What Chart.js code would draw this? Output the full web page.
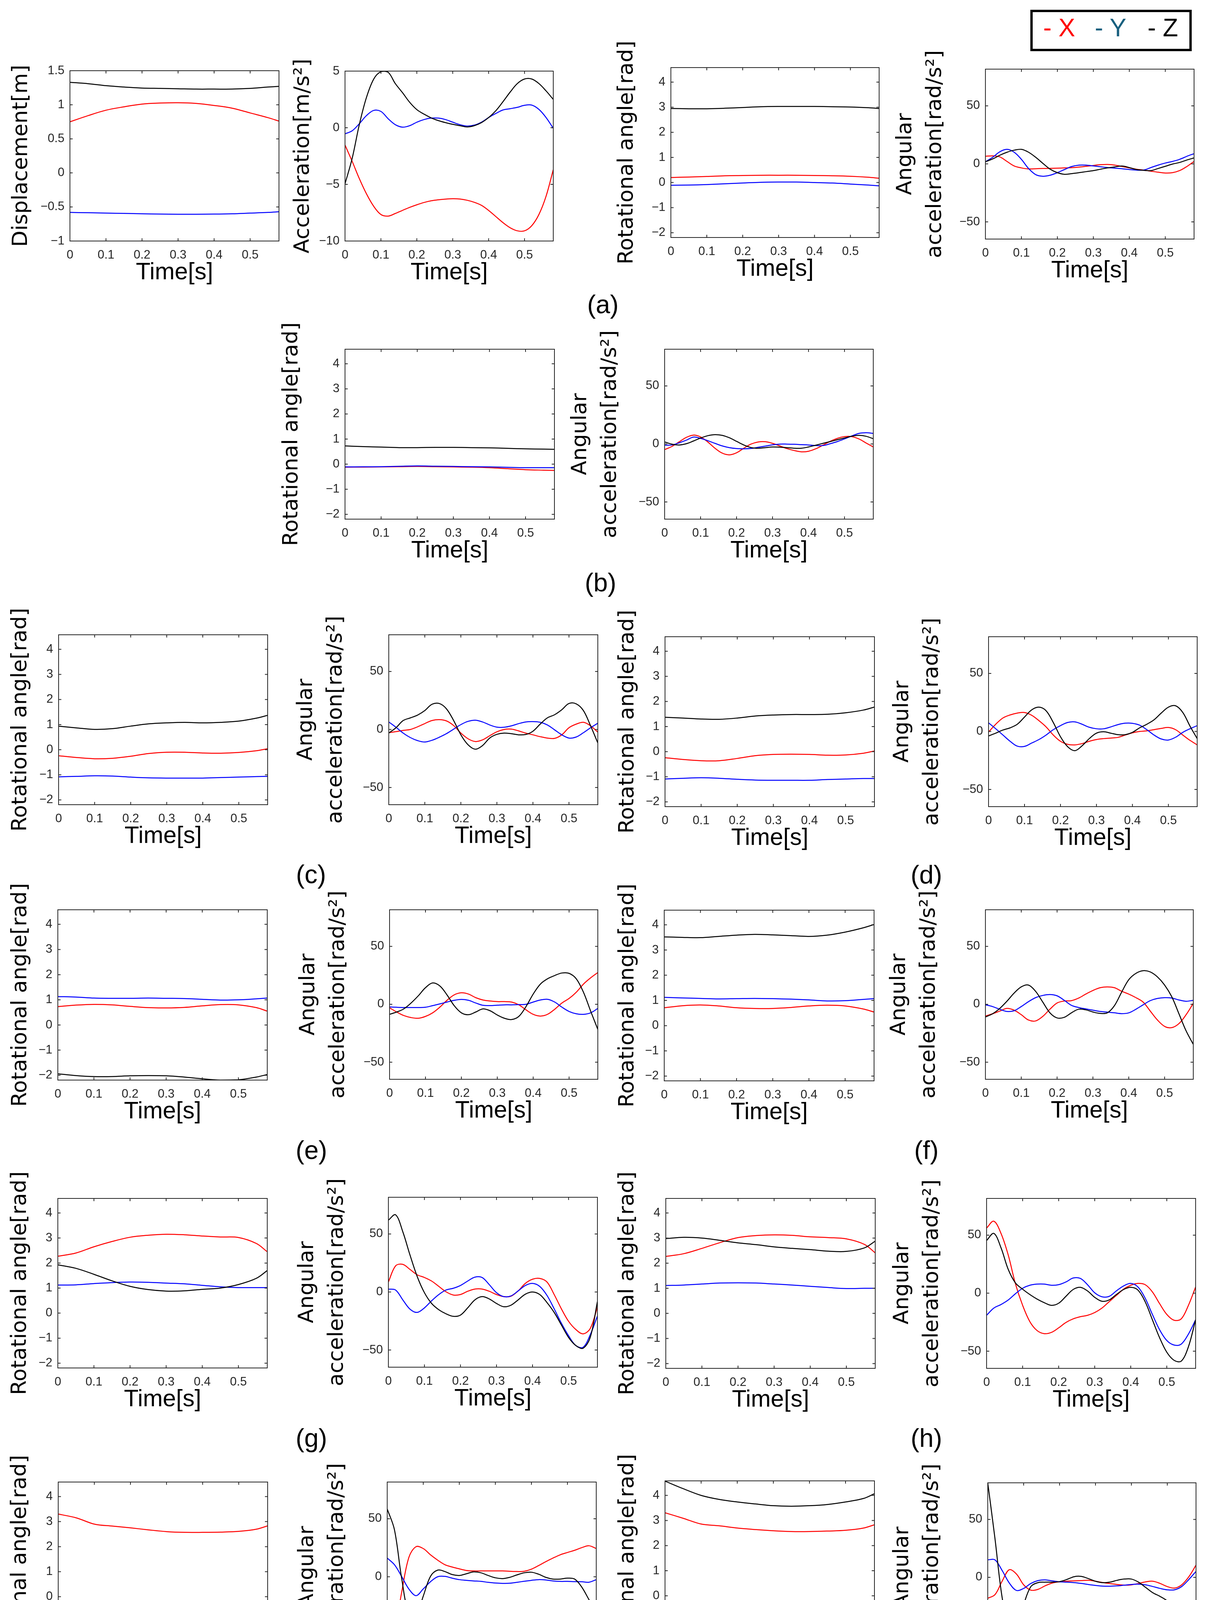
<!DOCTYPE html>
<html>
<head>
<meta charset="utf-8">
<script src="https://cdn.jsdelivr.net/npm/chart.js@4.4.0/dist/chart.umd.min.js"></script>
<style>
  body { margin: 0; background: #fff; width: 3084px; height: 4466px; position: relative; overflow: hidden; }
  canvas { position: absolute; }
  .lbl { position: absolute; font-family: 'Liberation Sans', Arial, sans-serif; font-size: 66px; line-height: 1;
         transform: translate(-50%, -50%); white-space: pre; color: #000; }
  .legend { position: absolute; left: 2637px; top: 25px; width: 413px; height: 106px; box-sizing: border-box;
            border: 6px solid #000; }
  .key { position: absolute; font-family: 'Liberation Sans', Arial, sans-serif; font-size: 64px; line-height: 1;
         transform: translateY(-50%); white-space: pre; }
</style>
</head>
<body>
<div class="legend"></div>
<span class="key" style="left:2670px;top:71px;color:#ff0000">- X</span>
<span class="key" style="left:2802px;top:71px;color:#19607f">- Y</span>
<span class="key" style="left:2937px;top:71px;color:#000">- Z</span>
<script>
// time axes [s]
const T_ANG = [0, 0.05, 0.1, 0.15, 0.2, 0.25, 0.3, 0.35, 0.4, 0.45, 0.5, 0.55, 0.58];
const T_ACC = [0, 0.02, 0.04, 0.06, 0.08, 0.1, 0.12, 0.14, 0.16, 0.18, 0.2, 0.22, 0.24, 0.26, 0.28,
               0.3, 0.32, 0.34, 0.36, 0.38, 0.4, 0.42, 0.44, 0.46, 0.48, 0.5, 0.52, 0.54, 0.56, 0.58];

// (a) displacement [m] and acceleration [m/s^2]
const dispA_X = [0.75, 0.84, 0.92, 0.97, 1.01, 1.025, 1.03, 1.02, 0.99, 0.95, 0.88, 0.81, 0.76];
const dispA_Y = [-0.58, -0.585, -0.59, -0.595, -0.6, -0.605, -0.607, -0.607, -0.605, -0.6, -0.59, -0.58, -0.57];
const dispA_Z = [1.33, 1.31, 1.28, 1.26, 1.245, 1.24, 1.235, 1.23, 1.23, 1.23, 1.24, 1.26, 1.27];
const accA_X = [-1.53, -2.97, -4.5, -5.85, -6.94, -7.66, -7.8, -7.57, -7.3, -7.03, -6.8, -6.6, -6.45, -6.36, -6.3,
                -6.27, -6.29, -6.4, -6.58, -6.85, -7.3, -7.84, -8.38, -8.83, -9.1, -9.1, -8.65, -7.66, -6.04, -3.7];
const accA_Y = [-0.54, -0.27, 0.36, 1.08, 1.53, 1.44, 0.8, 0.27, 0.05, 0.18, 0.49, 0.72, 0.85, 0.85, 0.72,
                0.49, 0.27, 0.15, 0.23, 0.49, 0.9, 1.26, 1.57, 1.68, 1.8, 1.98, 2.0, 1.62, 0.9, -0.05];
const accA_Z = [-4.95, -2.7, 0.3, 2.7, 4.3, 4.95, 4.9, 3.9, 3.1, 2.25, 1.6, 1.2, 0.87, 0.63, 0.45,
                0.3, 0.18, 0.07, 0.18, 0.45, 0.9, 1.5, 2.3, 3.15, 3.9, 4.3, 4.3, 3.9, 3.25, 2.5];

// rotational angle [rad], rows (a)..(j)
const angA_X = [0.2, 0.22, 0.24, 0.27, 0.28, 0.29, 0.29, 0.29, 0.28, 0.27, 0.25, 0.21, 0.17];
const angA_Y = [-0.11, -0.1, -0.08, -0.05, -0.02, 0.01, 0.02, 0.02, 0.0, -0.02, -0.06, -0.1, -0.13];
const angA_Z = [2.95, 2.94, 2.94, 2.96, 2.99, 3.02, 3.03, 3.03, 3.03, 3.02, 3.01, 2.98, 2.95];
const angB_X = [-0.12, -0.115, -0.11, -0.1, -0.09, -0.1, -0.11, -0.12, -0.14, -0.18, -0.22, -0.24, -0.25];
const angB_Y = [-0.11, -0.105, -0.1, -0.085, -0.07, -0.08, -0.09, -0.1, -0.11, -0.125, -0.14, -0.14, -0.14];
const angB_Z = [0.73, 0.7, 0.68, 0.66, 0.66, 0.67, 0.67, 0.66, 0.65, 0.63, 0.61, 0.6, 0.59];
const angC_X = [-0.24, -0.31, -0.36, -0.34, -0.26, -0.15, -0.1, -0.1, -0.13, -0.14, -0.11, -0.04, 0.04];
const angC_Y = [-1.08, -1.06, -1.04, -1.05, -1.09, -1.12, -1.13, -1.13, -1.13, -1.11, -1.09, -1.07, -1.06];
const angC_Z = [0.94, 0.87, 0.81, 0.84, 0.94, 1.03, 1.07, 1.09, 1.07, 1.09, 1.14, 1.26, 1.37];
const angD_X = [-0.24, -0.31, -0.36, -0.36, -0.27, -0.16, -0.11, -0.1, -0.11, -0.14, -0.13, -0.06, 0.03];
const angD_Y = [-1.09, -1.06, -1.04, -1.06, -1.1, -1.13, -1.14, -1.14, -1.14, -1.11, -1.09, -1.07, -1.07];
const angD_Z = [1.37, 1.34, 1.3, 1.29, 1.34, 1.42, 1.46, 1.48, 1.48, 1.49, 1.55, 1.66, 1.78];
const angE_X = [0.73, 0.79, 0.82, 0.8, 0.74, 0.69, 0.68, 0.7, 0.76, 0.81, 0.8, 0.69, 0.55];
const angE_Y = [1.13, 1.11, 1.07, 1.06, 1.06, 1.07, 1.06, 1.05, 1.02, 0.99, 1.0, 1.04, 1.07];
const angE_Z = [-1.94, -2.01, -2.05, -2.05, -2.02, -2.01, -2.02, -2.07, -2.14, -2.19, -2.18, -2.07, -1.97];
const angF_X = [0.71, 0.79, 0.82, 0.78, 0.71, 0.68, 0.68, 0.72, 0.78, 0.81, 0.78, 0.66, 0.54];
const angF_Y = [1.12, 1.1, 1.08, 1.06, 1.07, 1.08, 1.07, 1.05, 1.02, 0.98, 0.99, 1.04, 1.07];
const angF_Z = [3.52, 3.5, 3.49, 3.54, 3.59, 3.62, 3.6, 3.57, 3.54, 3.59, 3.71, 3.88, 4.01];
const angG_X = [2.27, 2.4, 2.65, 2.86, 3.03, 3.11, 3.15, 3.13, 3.08, 3.04, 3.02, 2.78, 2.45];
const angG_Y = [1.12, 1.13, 1.18, 1.22, 1.24, 1.23, 1.2, 1.17, 1.11, 1.05, 1.02, 1.02, 1.02];
const angG_Z = [1.93, 1.79, 1.55, 1.29, 1.07, 0.94, 0.88, 0.89, 0.95, 1.0, 1.14, 1.39, 1.7];
const angH_X = [2.27, 2.38, 2.59, 2.82, 3.02, 3.1, 3.13, 3.11, 3.05, 3.02, 2.97, 2.75, 2.41];
const angH_Y = [1.11, 1.13, 1.17, 1.21, 1.22, 1.21, 1.17, 1.13, 1.08, 1.03, 0.99, 1.0, 1.0];
const angH_Z = [2.98, 3.03, 3.0, 2.91, 2.81, 2.74, 2.65, 2.59, 2.54, 2.48, 2.47, 2.61, 2.88];
const angI_X = [3.3, 3.15, 2.9, 2.82, 2.75, 2.67, 2.6, 2.57, 2.57, 2.58, 2.61, 2.7, 2.83];
const angI_Y = [-1.06, -1.11, -1.15, -1.17, -1.19, -1.2, -1.2, -1.19, -1.17, -1.13, -1.09, -1.04, -1.0];
const angI_Z = [-1.15, -1.24, -1.36, -1.37, -1.39, -1.42, -1.47, -1.49, -1.5, -1.51, -1.51, -1.51, -1.49];
const angJ_X = [3.31, 3.09, 2.86, 2.79, 2.7, 2.64, 2.59, 2.56, 2.56, 2.58, 2.61, 2.7, 2.83];
const angJ_Y = [-1.05, -1.12, -1.16, -1.18, -1.19, -1.2, -1.2, -1.19, -1.16, -1.14, -1.1, -1.05, -1.0];
const angJ_Z = [4.57, 4.27, 4.0, 3.84, 3.74, 3.66, 3.59, 3.57, 3.59, 3.64, 3.74, 3.88, 4.07];

// angular acceleration [rad/s^2], rows (a)..(j)
const angAccA_X = [6.5, 6.9, 6.0, 2.1, -1.8, -3.5, -4.4, -4.2, -4.0, -3.9, -3.7, -3.5, -3.3, -2.8, -2.1,
                   -1.4, -0.7, -0.5, -1.1, -2.3, -3.5, -4.6, -5.4, -6.3, -7.2, -7.9, -7.6, -5.8, -2.3, 2.1];
const angAccA_Y = [1.8, 5.6, 10.4, 12.5, 10.0, 3.9, -4.0, -9.3, -10.7, -9.8, -7.6, -4.9, -2.3, -1.1, -1.1,
                   -1.8, -2.5, -3.2, -3.7, -4.2, -4.9, -5.4, -5.3, -3.2, -1.1, 0.7, 2.1, 3.9, 6.5, 8.8];
const angAccA_Z = [1.8, 4.2, 7.4, 10.0, 11.8, 12.5, 10.0, 5.6, 0.35, -4.6, -7.6, -9.0, -8.4, -7.6, -6.7,
                   -5.8, -4.6, -3.5, -2.6, -1.9, -3.2, -4.9, -5.6, -5.8, -4.0, -2.1, -0.2, 1.2, 3.3, 5.1];
const angAccB_X = [-4.9, -2.2, 1.7, 5.6, 7.6, 6.0, 1.7, -3.7, -7.9, -9.4, -7.6, -3.7, -0.15, 1.7, 1.9,
                   0.5, -1.7, -4.0, -5.7, -6.8, -6.3, -4.2, -1.1, 2.2, 4.8, 6.3, 6.3, 4.3, 0.8, -2.6];
const angAccB_Y = [-1.1, -0.9, 0.9, 3.2, 5.9, 4.8, 2.8, 0.5, -1.7, -3.2, -4.0, -4.2, -3.9, -2.9, -1.9,
                   -0.8, -0.15, -0.15, -0.3, -0.6, -0.9, -1.4, -1.4, 0.15, 2.0, 4.3, 6.8, 9.1, 9.7, 9.1];
const angAccB_Z = [1.7, -0.15, -0.9, 0.15, 2.5, 5.1, 7.1, 8.0, 7.4, 5.3, 2.2, -0.9, -3.1, -3.7, -3.2,
                   -2.6, -2.8, -3.2, -3.7, -3.7, -2.6, -1.1, 0.5, 2.0, 3.6, 5.1, 6.6, 7.4, 6.6, 4.5];
const angAccC_X = [-2.8, -1.9, -0.8, 0, 2.3, 5.1, 7.7, 8.5, 7.4, 3.4, -3.1, -8.0, -10.4, -9.0, -5.4,
                   -2.0, 0, 0.3, -1.2, -3.1, -4.6, -6.2, -7.4, -7.7, -4.6, 1.5, 4.6, 6.2, 3.1, -2.3];
const angAccC_Y = [6.5, 1.9, -3.1, -7.0, -9.6, -10.8, -9.3, -6.7, -3.6, 0.3, 4.2, 7.0, 8.0, 6.5, 3.9,
                   2.0, 1.9, 3.1, 5.0, 6.5, 6.8, 6.2, 3.9, -0.3, -4.6, -7.4, -6.5, -2.8, 1.5, 5.4];
const angAccC_Z = [-3.1, 1.5, 7.7, 10.0, 12.4, 16.3, 21.7, 22.4, 17.8, 7.7, -4.6, -13.2, -17.0, -13.9, -7.4,
                   -4.2, -3.1, -3.6, -4.6, -4.3, -1.5, 4.6, 10.0, 12.7, 17.0, 22.4, 22.1, 16.3, 3.1, -11.6];
const angAccD_X = [-0.5, 6.2, 11.6, 14.2, 15.8, 16.3, 13.9, 9.3, 3.9, -3.1, -8.5, -11.1, -11.6, -10.5, -8.5,
                   -7.0, -6.2, -5.7, -5.1, -3.1, -1.2, 0, 0.5, 1.5, 2.6, 3.4, 1.5, -3.1, -7.7, -11.6];
const angAccD_Y = [7.4, 2.3, -3.1, -8.5, -12.7, -12.9, -10.0, -7.0, -3.1, 1.5, 5.0, 7.7, 8.2, 6.2, 3.6,
                   2.3, 2.3, 3.9, 5.9, 7.1, 7.0, 5.4, 1.5, -3.1, -6.5, -7.4, -5.0, -0.8, 2.3, 5.0];
const angAccD_Z = [-3.9, -1.5, 1.2, 3.1, 6.2, 12.4, 18.6, 20.9, 17.8, 7.7, -4.6, -13.2, -16.6, -12.4, -6.2,
                   -1.5, -0.3, -1.5, -2.8, -2.8, -0.8, 3.1, 6.2, 10.0, 15.8, 20.9, 22.1, 16.3, 4.6, -6.2];
const angAccE_X = [-3.1, -6.7, -9.8, -11.5, -12.1, -10.5, -7.4, -2.5, 3.4, 8.1, 9.9, 8.8, 5.7, 3.7, 2.8,
                   2.3, 2.3, 1.9, -0.5, -4.8, -8.7, -10.2, -8.7, -4.3, 1.1, 5.0, 10.4, 17.4, 22.8, 27.4];
const angAccE_Y = [-2.3, -2.6, -2.8, -2.8, -2.8, -2.6, -1.2, 0.3, 1.9, 3.4, 4.2, 3.4, 1.1, -0.9, -1.1,
                   -0.8, -0.5, -0.5, -0.3, 0, 1.9, 3.7, 4.3, 1.9, -2.5, -6.2, -8.2, -8.7, -7.4, -3.6];
const angAccE_Z = [-8.7, -6.7, -3.9, 1.1, 7.3, 14.3, 18.4, 15.8, 8.1, -1.2, -7.4, -9.0, -6.7, -4.0, -5.6,
                   -9.3, -12.1, -13.2, -10.5, -2.0, 8.8, 17.4, 22.0, 24.8, 27.0, 26.7, 22.0, 10.4, -5.9, -21.7];
const angAccF_X = [-10.2, -8.2, -5.9, -3.6, -5.1, -9.0, -13.6, -14.4, -10.5, -4.3, 1.1, 2.8, 3.1, 5.3, 8.8,
                   11.9, 14.3, 15.0, 14.3, 11.2, 8.8, 5.7, 1.9, -5.9, -13.6, -19.1, -20.2, -16.7, -9.0, 0.8];
const angAccF_Y = [-0.5, -2.0, -4.3, -6.2, -5.6, -2.0, 2.2, 5.7, 7.6, 8.4, 7.3, 3.4, -0.9, -2.8, -4.0,
                   -5.1, -6.2, -6.8, -7.4, -8.1, -7.4, -4.3, -0.5, 3.1, 5.0, 5.7, 5.4, 3.7, 2.6, 3.4];
const angAccF_Z = [-11.0, -8.2, -3.6, 2.6, 9.6, 15.0, 16.6, 11.2, 1.9, -7.4, -11.8, -11.3, -7.4, -4.3, -4.8,
                   -6.7, -7.9, -7.4, -1.2, 10.4, 21.2, 26.7, 29.0, 27.9, 23.6, 16.6, 6.5, -8.2, -23.0, -34.6];
const angAccG_X = [8.6, 22.5, 23.8, 19.4, 14.8, 12.5, 9.4, 4.8, 0.15, -2.6, -2.2, 0.6, 2.5, 2.5, 0.6,
                   -2.2, -4.0, -3.7, 0.9, 7.4, 11.0, 11.7, 8.6, -2.2, -14.5, -25.3, -32.3, -36.1, -31.5, -13.0];
const angAccG_Y = [2.5, 1.7, -6.8, -14.8, -17.6, -13.7, -7.6, -2.2, 1.7, 3.2, 5.6, 9.4, 12.8, 12.5, 6.3,
                   -0.6, -4.0, -3.4, 0.9, 5.6, 7.4, 4.8, -2.9, -14.5, -26.9, -37.7, -46.1, -47.7, -36.9, -20.7];
const angAccG_Z = [61.9, 66.5, 51.9, 31.8, 13.3, -0.6, -9.9, -15.3, -18.8, -21.0, -19.9, -13.7, -6.8, -4.0, -6.0,
                   -9.9, -12.7, -11.4, -6.8, -1.9, 0, -2.2, -9.1, -17.6, -28.4, -39.2, -46.1, -48.5, -39.2, -8.3];
const angAccH_X = [56.1, 62.0, 51.5, 32.9, 8.1, -10.5, -24.5, -32.2, -34.9, -33.8, -29.9, -25.3, -22.2, -20.3, -19.1,
                   -16.7, -12.9, -7.4, -2.0, 3.4, 6.8, 8.4, 7.3, 1.1, -9.0, -18.3, -23.3, -22.2, -10.5, 5.3];
const angAccH_Y = [-19.1, -12.9, -9.8, -5.9, -0.5, 4.2, 6.8, 7.8, 7.8, 6.8, 7.3, 9.6, 13.0, 12.7, 7.3,
                   0.3, -3.1, -2.8, 1.9, 6.2, 8.4, 5.3, -4.3, -18.3, -31.5, -40.8, -44.7, -43.9, -35.3, -22.9];
const angAccH_Z = [45.3, 51.5, 39.1, 20.5, 8.8, 3.4, -1.2, -5.1, -8.2, -10.5, -8.7, -2.8, 3.1, 5.0, 1.9,
                   -3.6, -7.0, -5.9, -1.2, 3.1, 5.0, 2.6, -7.4, -22.9, -38.4, -50.9, -57.8, -58.6, -46.2, -22.9];
const angAccI_X = [-64.8, -47.8, -13.6, 16.6, 25.9, 24.3, 18.9, 14.3, 10.4, 8.4, 6.8, 5.4, 5.0, 5.0, 5.0,
                   5.0, 5.0, 4.7, 4.5, 4.7, 6.5, 9.6, 13.0, 16.1, 18.9, 20.9, 22.8, 25.1, 26.7, 24.3];
const angAccI_Y = [16.1, 10.4, 0.3, -10.5, -16.3, -10.5, -4.3, 0, 0.3, -1.2, -2.5, -3.1, -3.6, -4.0, -4.8,
                   -5.4, -5.7, -5.6, -4.8, -3.9, -3.1, -2.5, -2.8, -3.6, -4.0, -4.0, -4.2, -4.3, -4.7, -2.5];
const angAccI_Z = [58.4, 40.6, -1.2, -31.5, -33.8, -16.7, 0.3, 5.7, 4.5, 1.9, 1.1, 2.6, 4.2, 3.4, 1.1,
                   -0.9, -1.6, -0.5, 1.6, 3.4, 3.9, 2.2, -0.5, -2.0, -2.0, -1.2, -2.0, -9.0, -19.8, -29.9];
const angAccJ_X = [-18.1, -15.0, -3.4, 6.6, 2.8, -6.5, -11.1, -10.4, -7.3, -4.9, -3.9, -3.4, -3.1, -2.8, -2.6,
                   -3.4, -4.5, -5.4, -6.2, -6.8, -6.5, -5.3, -3.9, -3.4, -5.3, -8.0, -9.3, -6.5, 0.5, 10.5];
const angAccJ_Y = [15.1, 15.1, 5.9, -4.9, -11.4, -9.6, -5.3, -2.8, -2.2, -3.1, -3.9, -4.2, -4.6, -5.3, -6.2,
                   -7.0, -7.6, -7.7, -7.4, -6.8, -6.2, -5.9, -6.5, -8.0, -9.6, -10.8, -10.8, -8.0, -1.9, 5.1];
const angAccJ_Z = [81.6, 33.7, -17.3, -44.4, -43.6, -23.5, -8.0, -4.6, -4.2, -4.2, -3.7, -1.9, 0.5, 0.8, -1.1,
                   -3.4, -4.6, -4.2, -2.6, -1.5, -1.5, -4.2, -8.8, -13.4, -16.5, -20.4, -26.6, -35.1, -42.8, -47.9];

// axis settings per kind of panel
const AXES = {
  disp:   { t: T_ANG, min: -1, max: 1.5, step: 0.5, title: 'Displacement[m]' },
  acc:    { t: T_ACC, min: -10, max: 5, step: 5, title: 'Acceleration[m/s²]' },
  ang:    { t: T_ANG, min: -2.19, max: 4.58, step: 1, title: 'Rotational angle[rad]' },
  angAcc: { t: T_ACC, min: -64.8, max: 81.6, step: 50, title: ['Angular', 'acceleration[rad/s²]'] }
};

// box = plot area on the page [left, top, width, height]; ty = y title centre, px left of the box
const PANELS = [
  { box: [179, 181, 535, 436], kind: 'disp', ty: 124, X: dispA_X, Y: dispA_Y, Z: dispA_Z },
  { box: [883, 182, 533, 435], kind: 'acc', ty: 107, X: accA_X, Y: accA_Y, Z: accA_Z },
  { box: [1717, 173, 533, 435], kind: 'ang', ty: 112, X: angA_X, Y: angA_Y, Z: angA_Z },
  { box: [2522, 177, 534, 435], kind: 'angAcc', ty: 204, X: angAccA_X, Y: angAccA_Y, Z: angAccA_Z },
  { box: [883, 894, 536, 435], kind: 'ang', ty: 136, X: angB_X, Y: angB_Y, Z: angB_Z },
  { box: [1701, 894, 534, 435], kind: 'angAcc', ty: 215, X: angAccB_X, Y: angAccB_Y, Z: angAccB_Z },
  { box: [150, 1625, 535, 435], kind: 'ang', ty: 97, X: angC_X, Y: angC_Y, Z: angC_Z },
  { box: [995, 1625, 535, 435], kind: 'angAcc', ty: 211, X: angAccC_X, Y: angAccC_Y, Z: angAccC_Z },
  { box: [1702, 1630, 536, 435], kind: 'ang', ty: 95, X: angD_X, Y: angD_Y, Z: angD_Z },
  { box: [2530, 1630, 534, 435], kind: 'angAcc', ty: 220, X: angAccD_X, Y: angAccD_Y, Z: angAccD_Z },
  { box: [148, 2329, 536, 436], kind: 'ang', ty: 95, X: angE_X, Y: angE_Y, Z: angE_Z },
  { box: [997, 2329, 533, 434], kind: 'angAcc', ty: 207, X: angAccE_X, Y: angAccE_Y, Z: angAccE_Z },
  { box: [1700, 2330, 537, 437], kind: 'ang', ty: 93, X: angF_X, Y: angF_Y, Z: angF_Z },
  { box: [2522, 2329, 532, 434], kind: 'angAcc', ty: 220, X: angAccF_X, Y: angAccF_Y, Z: angAccF_Z },
  { box: [148, 3068, 536, 434], kind: 'ang', ty: 96, X: angG_X, Y: angG_Y, Z: angG_Z },
  { box: [994, 3065, 535, 435], kind: 'angAcc', ty: 207, X: angAccG_X, Y: angAccG_Y, Z: angAccG_Z },
  { box: [1704, 3068, 536, 435], kind: 'ang', ty: 97, X: angH_X, Y: angH_Y, Z: angH_Z },
  { box: [2525, 3068, 535, 435], kind: 'angAcc', ty: 215, X: angAccH_X, Y: angAccH_Y, Z: angAccH_Z },
  { box: [149, 3794, 536, 434], kind: 'ang', ty: 97, X: angI_X, Y: angI_Y, Z: angI_Z },
  { box: [991, 3794, 535, 435], kind: 'angAcc', ty: 204, X: angAccI_X, Y: angAccI_Y, Z: angAccI_Z },
  { box: [1702, 3791, 536, 435], kind: 'ang', ty: 95, X: angJ_X, Y: angJ_Y, Z: angJ_Z },
  { box: [2528, 3796, 533, 434], kind: 'angAcc', ty: 218, X: angAccJ_X, Y: angAccJ_Y, Z: angAccJ_Z }
];

const LABELS = [['(a)', 1543, 779], ['(b)', 1537, 1491], ['(c)', 796, 2238], ['(d)', 2371, 2239],
                ['(e)', 797, 2944], ['(f)', 2371, 2944], ['(g)', 797, 3681], ['(h)', 2371, 3681],
                ['(i)', 797, 4407], ['(j)', 2371, 4407]];

const LPAD = 260, TPAD = 130, RPAD = 14, BPAD = 118, TICK = 7;
const TICK_FONT = { family: "'Liberation Sans Narrow', 'Liberation Sans', Arial, sans-serif", size: 31 };
const TIME_FONT = { family: "'Liberation Sans', Arial, sans-serif", size: 61 };
const YT_FONT = { family: "'DejaVu Sans', sans-serif", size: 54, lineHeight: 1.4 };
const INK = '#262626';

function num(v) {
  const r = Math.round(v * 10) / 10;
  return (r < 0 ? '\u2212' : '') + String(Math.abs(r));
}

// MATLAB-like box with inward tick marks on all four sides
const matlabBox = {
  id: 'matlabBox',
  afterDraw(chart) {
    const { ctx, chartArea: a, scales: { x, y } } = chart;
    ctx.save();
    ctx.strokeStyle = INK;
    ctx.lineWidth = 2;
    ctx.strokeRect(a.left, a.top, a.right - a.left, a.bottom - a.top);
    ctx.beginPath();
    x.ticks.forEach(t => {
      const px = x.getPixelForValue(t.value);
      ctx.moveTo(px, a.bottom); ctx.lineTo(px, a.bottom - TICK);
      ctx.moveTo(px, a.top); ctx.lineTo(px, a.top + TICK);
    });
    y.ticks.forEach(t => {
      const py = y.getPixelForValue(t.value);
      ctx.moveTo(a.left, py); ctx.lineTo(a.left + TICK, py);
      ctx.moveTo(a.right, py); ctx.lineTo(a.right - TICK, py);
    });
    ctx.stroke();
    ctx.restore();
  }
};

function series(t, vals, color) {
  return {
    data: t.map((x, i) => ({ x: x, y: vals[i] })),
    borderColor: color,
    borderWidth: 2.5,
    pointRadius: 0,
    tension: 0.35,
    fill: false
  };
}

PANELS.forEach(p => {
  const [left, top, w, h] = p.box;
  const ax = AXES[p.kind];
  const lh = YT_FONT.size * YT_FONT.lineHeight;
  const cv = document.createElement('canvas');
  cv.width = LPAD + w + RPAD;
  cv.height = TPAD + h + BPAD;
  cv.style.left = (left - LPAD) + 'px';
  cv.style.top = (top - TPAD) + 'px';
  document.body.appendChild(cv);

  new Chart(cv, {
    type: 'line',
    data: {
      // Z first so the black trace sits on top, as in the original plots
      datasets: [series(ax.t, p.Z, '#000000'), series(ax.t, p.Y, '#0000ff'), series(ax.t, p.X, '#ff0000')]
    },
    options: {
      responsive: false,
      animation: false,
      events: [],
      layout: { padding: { top: TPAD, right: RPAD, left: 0, bottom: 0 }, autoPadding: false },
      plugins: { legend: { display: false }, tooltip: { enabled: false } },
      scales: {
        x: {
          type: 'linear', min: 0, max: 0.58,
          afterFit: s => { s.height = BPAD; s.paddingLeft = 0; s.paddingRight = 0; },
          grid: { display: false, drawTicks: false },
          border: { display: false },
          ticks: { stepSize: 0.1, includeBounds: false, padding: 18, autoSkip: false, maxRotation: 0,
                   font: TICK_FONT, color: INK, callback: v => num(v) },
          title: { display: true, text: 'Time[s]', font: TIME_FONT, color: '#000', padding: 0 }
        },
        y: {
          type: 'linear', min: ax.min, max: ax.max,
          afterFit: s => { s.width = LPAD; s.paddingTop = 0; s.paddingBottom = 0; },
          grid: { display: false, drawTicks: false },
          border: { display: false },
          ticks: { stepSize: ax.step, includeBounds: false, padding: 14, autoSkip: false,
                   font: TICK_FONT, color: INK, callback: v => num(v) },
          title: { display: true, text: ax.title, font: YT_FONT, color: '#000',
                   padding: { top: LPAD - p.ty - lh / 2, bottom: 0 } }
        }
      }
    },
    plugins: [matlabBox]
  });
});

LABELS.forEach(([txt, x, y]) => {
  const d = document.createElement('div');
  d.className = 'lbl';
  d.textContent = txt;
  d.style.left = x + 'px';
  d.style.top = y + 'px';
  document.body.appendChild(d);
});
</script>
</body>
</html>
